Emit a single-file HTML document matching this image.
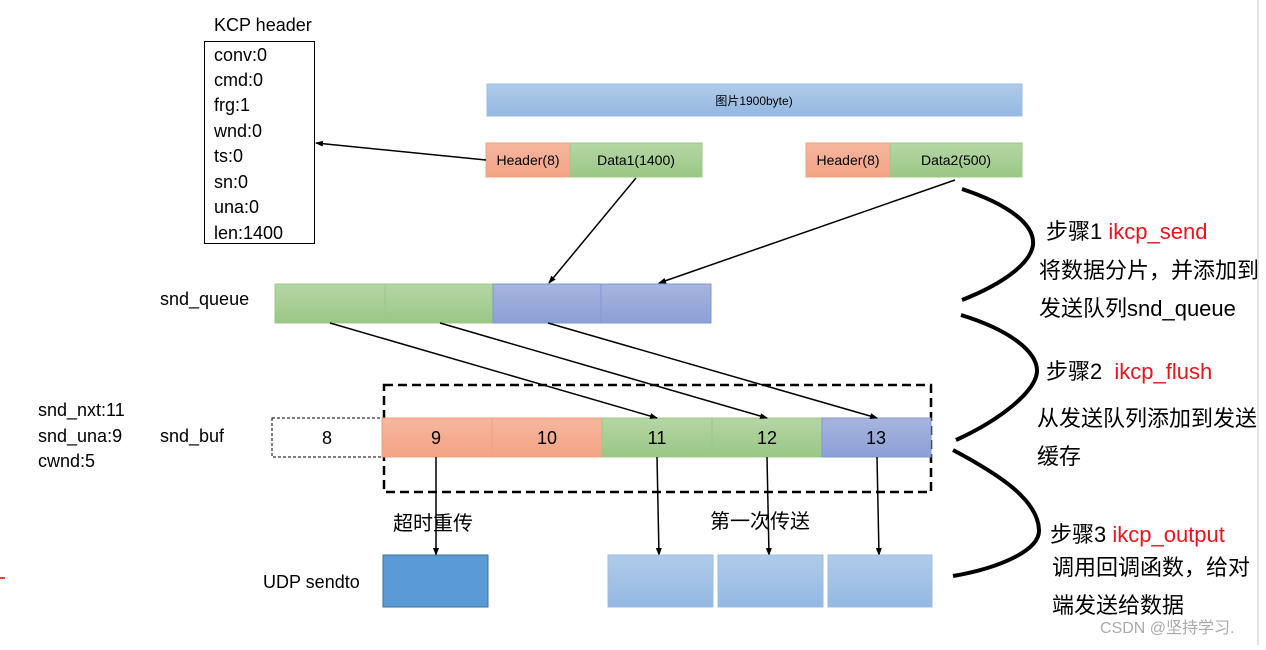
<!DOCTYPE html>
<html><head><meta charset="utf-8"><style>
body{margin:0;background:#fff;width:1266px;height:645px;overflow:hidden}
svg text{font-family:"Liberation Sans","Noto Sans CJK SC",sans-serif}
</style></head><body>
<svg width="1266" height="645" viewBox="0 0 1266 645" xmlns="http://www.w3.org/2000/svg">
<defs>
<marker id="a" markerWidth="8" markerHeight="8" refX="7" refY="4" orient="auto" markerUnits="userSpaceOnUse"><path d="M0,1 L8,4 L0,7 z" fill="#000"/></marker>
<linearGradient id="gb" x1="0" y1="0" x2="0" y2="1"><stop offset="0" stop-color="#b0cbe9"/><stop offset="1" stop-color="#94b8e2"/></linearGradient>
<linearGradient id="gg" x1="0" y1="0" x2="0" y2="1"><stop offset="0" stop-color="#b5d6a5"/><stop offset="1" stop-color="#9ac785"/></linearGradient>
<linearGradient id="gp" x1="0" y1="0" x2="0" y2="1"><stop offset="0" stop-color="#a7b5de"/><stop offset="1" stop-color="#8ba0d6"/></linearGradient>
<linearGradient id="go" x1="0" y1="0" x2="0" y2="1"><stop offset="0" stop-color="#f6b79e"/><stop offset="1" stop-color="#f3a385"/></linearGradient>
</defs>
<line x1="1258" y1="0" x2="1258" y2="645" stroke="#e4e4e4" stroke-width="2"/>
<text x="214" y="31" font-size="18">KCP header</text>
<rect x="204.5" y="41.5" width="110" height="202" fill="#fff" stroke="#000"/>
<g font-size="18">
<text x="214" y="61">conv:0</text><text x="214" y="86">cmd:0</text><text x="214" y="111">frg:1</text><text x="214" y="137">wnd:0</text><text x="214" y="162">ts:0</text><text x="214" y="188">sn:0</text><text x="214" y="213">una:0</text><text x="214" y="239">len:1400</text>
</g>
<rect x="487" y="84" width="535" height="32" fill="url(#gb)" stroke="#9cbde4"/>
<text x="754" y="105" font-size="12" text-anchor="middle">图片1900byte)</text>
<rect x="486" y="143" width="84" height="34" fill="url(#go)" stroke="#f0a07e"/>
<rect x="570" y="143" width="132" height="34" fill="url(#gg)" stroke="#9cc886"/>
<text x="528" y="165" font-size="14" text-anchor="middle">Header(8)</text>
<text x="636" y="165" font-size="14" text-anchor="middle">Data1(1400)</text>
<rect x="806" y="143" width="84" height="34" fill="url(#go)" stroke="#f0a07e"/>
<rect x="890" y="143" width="132" height="34" fill="url(#gg)" stroke="#9cc886"/>
<text x="848" y="165" font-size="14" text-anchor="middle">Header(8)</text>
<text x="956" y="165" font-size="14" text-anchor="middle">Data2(500)</text>
<g stroke="#000" stroke-width="1.5" fill="none" marker-end="url(#a)">
<line x1="486" y1="160" x2="316" y2="143"/>
<line x1="636" y1="178" x2="549" y2="283"/>
<line x1="955" y1="180" x2="659" y2="283"/>
</g>
<text x="160" y="305" font-size="18">snd_queue</text>
<rect x="275" y="284" width="110" height="39" fill="url(#gg)" stroke="#9cc886"/>
<rect x="385" y="284" width="108" height="39" fill="url(#gg)" stroke="#9cc886"/>
<rect x="493" y="284" width="108" height="39" fill="url(#gp)" stroke="#7f97d2"/>
<rect x="601" y="284" width="110" height="39" fill="url(#gp)" stroke="#7f97d2"/>
<rect x="384" y="385" width="547" height="107" fill="none" stroke="#000" stroke-width="2.5" stroke-dasharray="9,5"/>
<text x="38" y="416" font-size="18">snd_nxt:11</text>
<text x="38" y="442" font-size="18">snd_una:9</text>
<text x="38" y="467" font-size="18">cwnd:5</text>
<text x="160" y="442" font-size="18">snd_buf</text>
<rect x="272" y="418" width="110" height="39" fill="#fff" stroke="#000" stroke-dasharray="3,2"/>
<rect x="382" y="418" width="110" height="39" fill="url(#go)" stroke="#f0a07e"/>
<rect x="492" y="418" width="110" height="39" fill="url(#go)" stroke="#f0a07e"/>
<rect x="602" y="418" width="110" height="39" fill="url(#gg)" stroke="#9cc886"/>
<rect x="712" y="418" width="110" height="39" fill="url(#gg)" stroke="#9cc886"/>
<rect x="822" y="418" width="109" height="39" fill="url(#gp)" stroke="#7f97d2"/>
<g font-size="18" text-anchor="middle">
<text x="327" y="444">8</text><text x="436" y="444">9</text><text x="547" y="444">10</text><text x="657" y="444">11</text><text x="767" y="444">12</text><text x="876" y="444">13</text>
</g>
<g stroke="#000" stroke-width="1.5" fill="none" marker-end="url(#a)">
<line x1="330" y1="323" x2="657" y2="418"/>
<line x1="440" y1="323" x2="767" y2="418"/>
<line x1="548" y1="323" x2="877" y2="418"/>
<line x1="436" y1="457" x2="436" y2="555"/>
<line x1="657" y1="457" x2="659" y2="555"/>
<line x1="767" y1="457" x2="769" y2="555"/>
<line x1="877" y1="457" x2="879" y2="555"/>
</g>
<text x="393" y="530" font-size="20">超时重传</text>
<text x="710" y="528" font-size="20">第一次传送</text>
<text x="263" y="588" font-size="18">UDP sendto</text>
<rect x="383" y="555" width="105" height="52" fill="#5b9bd5" stroke="#41719c"/>
<rect x="608" y="555" width="105" height="52" fill="url(#gb)" stroke="#9cbde4"/>
<rect x="718" y="555" width="105" height="52" fill="url(#gb)" stroke="#9cbde4"/>
<rect x="828" y="555" width="104" height="52" fill="url(#gb)" stroke="#9cbde4"/>
<line x1="0" y1="578" x2="5" y2="578" stroke="#e00" stroke-width="1.5"/>
<g stroke="#000" stroke-width="4" fill="none">
<path d="M962,189 C1010,205 1035,225 1033,245 C1030,265 1000,285 962,300"/>
<path d="M961,315 C1010,330 1038,352 1037,372 C1035,392 1000,420 956,440"/>
<path d="M953,450 C1000,475 1038,500 1039,530 C1040,550 1000,568 953,576"/>
</g>
<g font-size="22">
<text x="1046" y="239">步骤1 <tspan fill="#e8141c">ikcp_send</tspan></text>
<text x="1039" y="278">将数据分片，并添加到</text>
<text x="1039" y="316">发送队列snd_queue</text>
<text x="1046" y="379">步骤2 <tspan fill="#e8141c" dx="6">ikcp_flush</tspan></text>
<text x="1037" y="426">从发送队列添加到发送</text>
<text x="1037" y="464">缓存</text>
<text x="1050" y="542">步骤3 <tspan fill="#e8141c">ikcp_output</tspan></text>
<text x="1052" y="575">调用回调函数，给对</text>
<text x="1052" y="613">端发送给数据</text>
</g>
<text x="1100" y="633" font-size="16" fill="#aaa">CSDN @坚持学习.</text>
</svg>
</body></html>
